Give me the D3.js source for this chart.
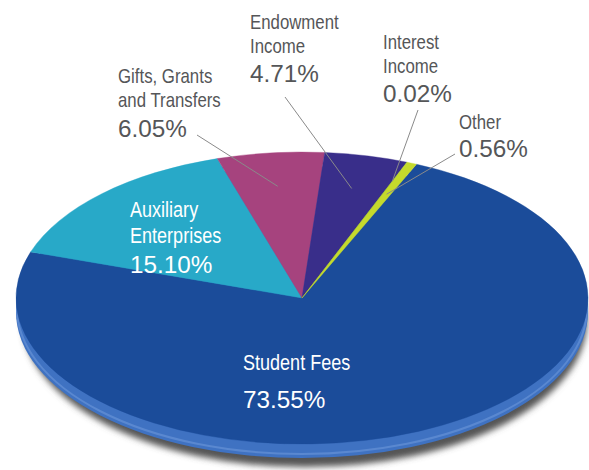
<!DOCTYPE html>
<html>
<head>
<meta charset="utf-8">
<style>
  body { margin: 0; background: #fff; }
  svg { display: block; }
</style>
</head>
<body>
<svg width="589" height="470" id="chart"></svg>
<script src="https://cdn.jsdelivr.net/npm/d3@7/dist/d3.min.js"></script>
<script>
// data, clockwise from the top right edge of Student Fees
var categories = ["Student Fees", "Auxiliary Enterprises", "Gifts, Grants and Transfers",
                  "Endowment Income", "Interest Income", "Other"];
var values = [73.55, 15.10, 6.05, 4.71, 0.02, 0.56];
var labelLines = [["Student Fees"], ["Auxiliary", "Enterprises"], ["Gifts, Grants", "and Transfers"],
                  ["Endowment", "Income"], ["Interest", "Income"], ["Other"]];
var colors = ["#1b4c9a", "#28a9c8", "#a6437e", "#392e8a", "#8fb33a", "#c5da2c"];

// layout of the labels (x, baselines of name lines, baseline of percent, inside?)
var labelPos = [
  { x: 243, lines: [370], pct: 408, inside: true },
  { x: 130, lines: [217, 243], pct: 273, inside: true },
  { x: 118, lines: [83, 107], pct: 137, inside: false, lx: 197, ly: 135 },
  { x: 250, lines: [29, 53], pct: 82, inside: false, lx: 285, ly: 97 },
  { x: 383, lines: [49, 73], pct: 102, inside: false, lx: 418, ly: 110, r: 0.86 },
  { x: 459, lines: [129], pct: 157, inside: false, lx: 455, ly: 154 }
];

var svg = d3.select("#chart");
var cx = 302, cy = 298, rx = 286, ry = 146, depth = 14;
var k = ry / rx;
var startA = 23.6 * Math.PI / 180;

var defs = svg.append("defs");
defs.append("filter").attr("id", "shadow")
  .attr("filterUnits", "userSpaceOnUse")
  .attr("x", 0).attr("y", 100).attr("width", 589).attr("height", 370)
  .append("feGaussianBlur").attr("stdDeviation", 3);

// drop shadow + side of the disc
svg.append("ellipse")
  .attr("cx", cx + 3).attr("cy", cy + depth + 9)
  .attr("rx", rx - 4).attr("ry", ry)
  .attr("fill", "#555")
  .attr("filter", "url(#shadow)");

svg.append("ellipse")
  .attr("cx", cx).attr("cy", cy + depth)
  .attr("rx", rx).attr("ry", ry)
  .attr("fill", "#3f72c2");

svg.append("ellipse")
  .attr("cx", cx).attr("cy", cy + depth - 4)
  .attr("rx", rx - 1).attr("ry", ry)
  .attr("fill", "none")
  .attr("stroke", "#5a88d0").attr("stroke-width", 2);

var pie = d3.pie().sort(null)
  .startAngle(startA).endAngle(startA + 2 * Math.PI);
var arcs = pie(values);

var arc = d3.arc().innerRadius(0).outerRadius(rx);

var face = svg.append("g")
  .attr("transform", "translate(" + cx + "," + cy + ") scale(1," + k + ")");

face.selectAll("path")
  .data(arcs)
  .enter().append("path")
  .attr("d", arc)
  .attr("fill", function(d, i) { return colors[i]; })
  .attr("stroke", function(d, i) { return colors[i]; })
  .attr("stroke-width", 0.5);

// leader lines
function pointAt(a, r) {
  return [cx + Math.sin(a) * rx * r, cy - Math.cos(a) * ry * r];
}
arcs.forEach(function(d, i) {
  var p = labelPos[i];
  if (p.inside) return;
  var mid = (d.startAngle + d.endAngle) / 2;
  var end = pointAt(mid, p.r || 0.77);
  svg.append("line")
    .attr("x1", p.lx).attr("y1", p.ly)
    .attr("x2", end[0]).attr("y2", end[1])
    .attr("stroke", "#8a8a8a").attr("stroke-width", 1);
});

// labels (names are a condensed face: squeeze Liberation Sans horizontally)
var fmt = d3.format(".2f");
var font = "'Liberation Sans', Arial, sans-serif";

labelPos.forEach(function(p, i) {
  var fill = p.inside ? "#ffffff" : "#555658";
  var g = svg.append("g").attr("class", "label");
  labelLines[i].forEach(function(t, j) {
    g.append("text")
      .attr("transform", "translate(" + p.x + "," + p.lines[j] + ") scale(0.82,1)")
      .style("font-family", font)
      .style("font-size", p.inside ? "22px" : "20.5px")
      .style("fill", fill)
      .text(t);
  });
  g.append("text")
    .attr("x", p.x).attr("y", p.pct)
    .style("font-family", font)
    .style("font-size", "24.3px")
    .style("fill", fill)
    .text(fmt(values[i]) + "%");
});
</script>
</body>
</html>
